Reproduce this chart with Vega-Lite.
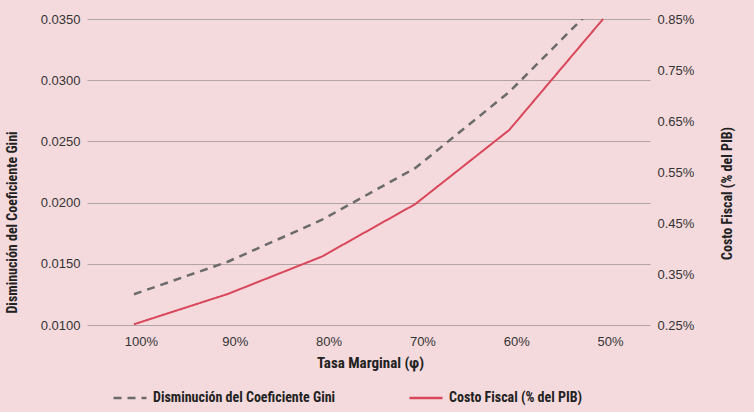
{
  "$schema": "https://vega.github.io/schema/vega-lite/v6.json",
  "width": 563,
  "height": 306,
  "autosize": "none",
  "padding": {"left": 87, "top": 19, "right": 104, "bottom": 87},
  "background": "#f5dadd",
  "config": {
    "view": {"stroke": null},
    "axis": {
      "labelFont": "Liberation Sans",
      "labelFontSize": 13,
      "labelColor": "#333333",
      "titleFont": "Roboto Condensed, DejaVu Sans Condensed, sans-serif",
      "titleFontWeight": "bold",
      "titleFontSize": 15,
      "titleColor": "#222222",
      "ticks": false,
      "domain": false
    },
    "legend": {
      "labelFont": "Roboto Condensed, DejaVu Sans Condensed, sans-serif",
      "labelFontWeight": "bold",
      "labelFontSize": 14,
      "labelColor": "#222222",
      "labelLimit": 400
    }
  },
  "data": {
    "values": [
      {"tasa": "100%", "gini": 0.01251, "costo": 0.2514},
      {"tasa": "90%", "gini": 0.01517, "costo": 0.3108},
      {"tasa": "80%", "gini": 0.01858, "costo": 0.3839},
      {"tasa": "70%", "gini": 0.02283, "costo": 0.4873},
      {"tasa": "60%", "gini": 0.02904, "costo": 0.6324},
      {"tasa": "50%", "gini": 0.03672, "costo": 0.85}
    ]
  },
  "encoding": {
    "x": {
      "field": "tasa",
      "type": "ordinal",
      "sort": null,
      "scale": {"type": "point", "padding": 0.5},
      "axis": {
        "title": "Tasa Marginal (φ)",
        "labelAngle": 0,
        "labelPadding": 10,
        "labelOffset": 7,
        "titleX": 283,
        "titleY": 37,
        "titleAlign": "center",
        "titleBaseline": "middle",
        "grid": false
      }
    }
  },
  "layer": [
    {
      "mark": {"type": "line", "strokeWidth": 2.5, "clip": true},
      "encoding": {
        "y": {
          "field": "gini",
          "type": "quantitative",
          "scale": {"domain": [0.01, 0.035], "nice": false, "zero": false},
          "axis": {
            "title": "Disminución del Coeficiente Gini",
            "format": ".4f",
            "values": [0.01, 0.015, 0.02, 0.025, 0.03, 0.035],
            "grid": true,
            "gridColor": "#b3a3a5",
            "gridWidth": 1.2,
            "labelPadding": 7,
            "titleFontSize": 14,
            "titleX": -75,
            "titleY": 203,
            "titleAngle": 270,
            "titleAlign": "center",
            "titleBaseline": "middle"
          }
        },
        "color": {
          "datum": "Disminución del Coeficiente Gini",
          "type": "nominal",
          "scale": {
            "domain": ["Disminución del Coeficiente Gini", "Costo Fiscal (% del PIB)"],
            "range": ["#6b6b6b", "#d9475b"]
          },
          "legend": {
            "title": null,
            "orient": "none",
            "direction": "horizontal",
            "legendX": 25,
            "legendY": 361,
            "symbolType": "stroke",
            "symbolSize": 1089,
            "symbolStrokeWidth": 2.5,
            "labelOffset": 5,
            "columnPadding": 68
          }
        },
        "strokeDash": {
          "datum": "Disminución del Coeficiente Gini",
          "type": "nominal",
          "scale": {
            "domain": ["Disminución del Coeficiente Gini", "Costo Fiscal (% del PIB)"],
            "range": [[8, 6], [1, 0]]
          },
          "legend": {
            "title": null,
            "orient": "none",
            "direction": "horizontal",
            "legendX": 25,
            "legendY": 361,
            "symbolType": "stroke",
            "symbolSize": 1089,
            "symbolStrokeWidth": 2.5,
            "labelOffset": 5,
            "columnPadding": 68
          }
        }
      }
    },
    {
      "mark": {"type": "line", "strokeWidth": 2},
      "encoding": {
        "y": {
          "field": "costo",
          "type": "quantitative",
          "scale": {"domain": [0.25, 0.85], "nice": false, "zero": false},
          "axis": {
            "title": "Costo Fiscal (% del PIB)",
            "orient": "right",
            "values": [0.25, 0.35, 0.45, 0.55, 0.65, 0.75, 0.85],
            "labelExpr": "format(datum.value, '.2f') + '%'",
            "grid": false,
            "labelPadding": 7,
            "titleFontSize": 14,
            "titleX": 77,
            "titleY": 174,
            "titleAngle": 270,
            "titleAlign": "center",
            "titleBaseline": "middle"
          }
        },
        "color": {"datum": "Costo Fiscal (% del PIB)", "type": "nominal"},
        "strokeDash": {"datum": "Costo Fiscal (% del PIB)", "type": "nominal"}
      }
    }
  ],
  "resolve": {"scale": {"y": "independent"}}
}
